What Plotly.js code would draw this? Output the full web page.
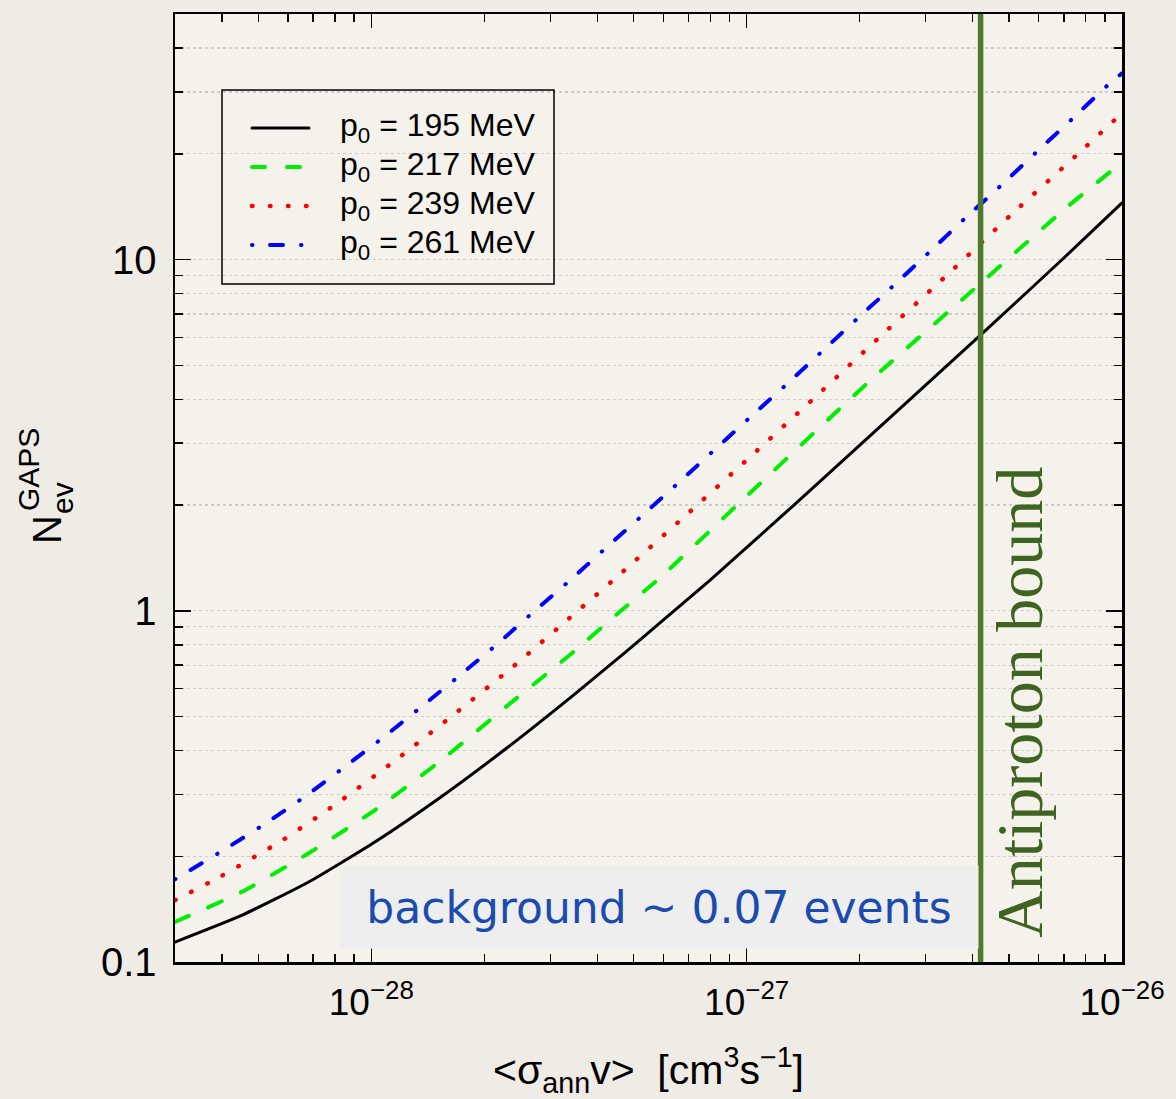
<!DOCTYPE html>
<html>
<head>
<meta charset="utf-8">
<script src="https://cdn.plot.ly/plotly-3.0.1.min.js"></script>
<style>
html,body{margin:0;padding:0;background:#efece6;}
#chart{width:1176px;height:1099px;}
#chart .scatterlayer .js-line{stroke-linecap:round;}
#chart .shapelayer path{stroke-linecap:round;}
</style>
</head>
<body>
<div id="chart"></div>
<script>
// ---- data ----
const seriesNames = ["p<sub>0</sub> = 195 MeV", "p<sub>0</sub> = 217 MeV", "p<sub>0</sub> = 239 MeV", "p<sub>0</sub> = 261 MeV"];

const x195 = [3.0e-29, 4.53e-29, 6.81e-29, 1.025e-28, 1.54e-28, 2.32e-28, 3.49e-28, 4.74e-28, 6.2e-28, 7.98e-28, 1.33e-27, 2.72e-27, 4.21e-27, 6.93e-27, 1.0e-26];
const y195 = [0.114, 0.136, 0.169, 0.220, 0.296, 0.410, 0.580, 0.760, 0.97, 1.22, 1.99, 3.99, 6.11, 10.0, 14.5];

const x217 = [3.0e-29, 4.53e-29, 6.81e-29, 1.025e-28, 1.54e-28, 2.32e-28, 3.49e-28, 4.55e-28, 5.87e-28, 9.58e-28, 2.08e-27, 4.12e-27, 7.08e-27, 1.0e-26];
const y217 = [0.130, 0.1585, 0.204, 0.271, 0.376, 0.540, 0.770, 0.985, 1.24, 2.03, 4.41, 8.40, 14.0, 18.9];

const x239 = [3.0e-29, 3.96e-29, 5.79e-29, 8.30e-29, 1.178e-28, 1.665e-28, 2.344e-28, 3.27e-28, 4.55e-28, 6.84e-28, 1.025e-27, 1.532e-27, 2.29e-27, 3.43e-27, 5.10e-27, 7.64e-27, 1.0e-26];
const y239 = [0.150, 0.175, 0.222, 0.288, 0.380, 0.508, 0.682, 0.926, 1.258, 1.857, 2.75, 4.08, 6.09, 9.06, 13.5, 20.0, 26.1];

const x261 = [3.0e-29, 4.09e-29, 5.26e-29, 6.75e-29, 8.57e-29, 1.084e-28, 1.369e-28, 1.725e-28, 2.17e-28, 2.71e-28, 3.40e-28, 4.23e-28, 5.30e-28, 6.60e-28, 8.26e-28, 1.029e-27, 1.283e-27, 1.595e-27, 1.99e-27, 2.48e-27, 3.08e-27, 3.82e-27, 4.77e-27, 5.93e-27, 7.38e-27, 9.15e-27, 1.0e-26];
const y261 = [0.172, 0.210, 0.249, 0.299, 0.362, 0.4385, 0.536, 0.656, 0.805, 0.994, 1.226, 1.514, 1.877, 2.32, 2.888, 3.58, 4.43, 5.50, 6.85, 8.49, 10.54, 13.11, 16.28, 20.27, 25.17, 31.3, 33.9];

const antiprotonBoundX = [4.2e-27, 4.2e-27];
const antiprotonBoundY = [0.1, 50];

const xRange = [3e-29, 1e-26];
const yRange = [0.1, 50];

const xTickVals = [1e-28, 1e-27, 1e-26];
const xTickText = ["10<sup>−28</sup>", "10<sup>−27</sup>", "10<sup>−26</sup>"];
const xMinorVals = [4e-29, 5e-29, 6e-29, 7e-29, 8e-29, 9e-29,
  2e-28, 3e-28, 4e-28, 5e-28, 6e-28, 7e-28, 8e-28, 9e-28,
  2e-27, 3e-27, 4e-27, 5e-27, 6e-27, 7e-27, 8e-27, 9e-27];
const yTickVals = [0.1, 1, 10];
const yTickText = ["0.1", "1", "10"];
const yMinorVals = [0.2, 0.3, 0.4, 0.5, 0.6, 0.7, 0.8, 0.9, 2, 3, 4, 5, 6, 7, 8, 9, 20, 30, 40];

const bgText = "background ~ 0.07 events";
const boundText = "Antiproton bound";

// ---- styles ----
const FONT = "Liberation Sans, Arial, Helvetica, sans-serif";
const styles = [
  {color: "#000000", width: 3, dash: "solid"},
  {color: "#00ee00", width: 4, dash: "15px,21px"},
  {color: "#ff0000", width: 4.5, dash: "0.5px,17.5px"},
  {color: "#0000ff", width: 4, dash: "0.5px,17.5px,13px,18px"}
];
const xs = [x195, x217, x239, x261];
const ys = [y195, y217, y239, y261];

const traces = xs.map((x, i) => ({
  x: x, y: ys[i], type: "scatter", mode: "lines", name: seriesNames[i],
  line: {color: styles[i].color, width: styles[i].width, dash: styles[i].dash, shape: "spline", smoothing: 0.5},
  showlegend: false, hoverinfo: "skip"
}));
traces.push({
  x: antiprotonBoundX, y: antiprotonBoundY, type: "scatter", mode: "lines", name: boundText,
  line: {color: "#4f7a2a", width: 5.5}, showlegend: false, hoverinfo: "skip"
});

// plot area in pixels: left 175, right 1122, top 14, bottom 962
const L = 175, R = 1122, T = 14, B = 962;
const px = v => (v - L) / (R - L);
const py = v => (B - v) / (B - T);

const shapes = [];
const annotations = [];

// manual legend
shapes.push({type: "rect", xref: "paper", yref: "paper", x0: px(222), x1: px(554), y0: py(284), y1: py(90),
  line: {color: "#000", width: 1.5}, fillcolor: "rgba(0,0,0,0)", layer: "above"});
const rows = [128, 167, 206, 245];
const legendDash = ["solid", "13px,22px", "0.5px,17.5px", "0.5px,17.5px,13px,18px"];
rows.forEach((r, i) => {
  shapes.push({type: "line", xref: "paper", yref: "paper", x0: px(252), x1: px(309), y0: py(r), y1: py(r),
    line: {color: styles[i].color, width: styles[i].width, dash: legendDash[i]}, layer: "above"});
  annotations.push({xref: "paper", yref: "paper", x: px(338), y: py(r), xanchor: "left", yanchor: "middle",
    text: seriesNames[i], showarrow: false, font: {family: FONT, size: 32, color: "#000"}});
});

// background note
annotations.push({xref: "paper", yref: "paper", x: px(659), y: py(907), xanchor: "center", yanchor: "middle",
  text: bgText, showarrow: false, bgcolor: "#eeeeee", width: 638, height: 82, borderpad: 0,
  font: {family: "DejaVu Sans, sans-serif", size: 44, color: "#1a4cb0"}});

// antiproton bound label
annotations.push({xref: "paper", yref: "paper", x: px(1019), y: py(703), xanchor: "center", yanchor: "middle",
  text: boundText, textangle: -90, showarrow: false,
  font: {family: "Liberation Serif, Times New Roman, serif", size: 66, color: "#3f6320"}});

// y-axis title with stacked sub/superscript
annotations.push({xref: "paper", yref: "paper", x: px(47), y: py(530), xanchor: "center", yanchor: "middle",
  text: "N", textangle: -90, showarrow: false, font: {family: FONT, size: 40, color: "#000"}});
annotations.push({xref: "paper", yref: "paper", x: px(28), y: py(470), xanchor: "center", yanchor: "middle",
  text: "GAPS", textangle: -90, showarrow: false, font: {family: FONT, size: 30, color: "#000"}});
annotations.push({xref: "paper", yref: "paper", x: px(62), y: py(498), xanchor: "center", yanchor: "middle",
  text: "ev", textangle: -90, showarrow: false, font: {family: FONT, size: 30, color: "#000"}});

const layout = {
  width: 1176, height: 1099,
  margin: {l: L, r: 1176 - R, t: T, b: 1099 - B, pad: 0},
  paper_bgcolor: "#efece6",
  plot_bgcolor: "#f5f2ec",
  showlegend: false,
  font: {family: FONT, color: "#000"},
  xaxis: {
    type: "log", range: [Math.log10(xRange[0]), Math.log10(xRange[1])],
    showline: true, linecolor: "#000", linewidth: 2.5, mirror: "ticks",
    ticks: "inside", ticklen: 14, tickwidth: 1.5, tickcolor: "#000",
    tickmode: "array", tickvals: xTickVals, ticktext: xTickText,
    tickfont: {family: FONT, size: 37, color: "#000"}, ticklabelstandoff: 6,
    showgrid: false, zeroline: false,
    minor: {tickmode: "array", tickvals: xMinorVals, ticks: "inside", ticklen: 8, tickwidth: 1.5, tickcolor: "#000", showgrid: false},
    title: {text: "&lt;σ<sub>ann</sub>v&gt;  [cm<sup>3</sup>s<sup>−1</sup>]", font: {family: FONT, size: 41, color: "#000"}, standoff: 38}
  },
  yaxis: {
    type: "log", range: [Math.log10(yRange[0]), Math.log10(yRange[1])],
    showline: true, linecolor: "#000", linewidth: 2.5, mirror: "ticks",
    ticks: "inside", ticklen: 16, tickwidth: 1.5, tickcolor: "#000",
    tickmode: "array", tickvals: yTickVals, ticktext: yTickText,
    tickfont: {family: FONT, size: 40, color: "#000"}, ticklabelstandoff: 8,
    showgrid: true, gridcolor: "#cbcbcb", griddash: "dot", gridwidth: 1.2, zeroline: false,
    minor: {tickmode: "array", tickvals: yMinorVals, ticks: "inside", ticklen: 8, tickwidth: 1.5, tickcolor: "#000",
      showgrid: true, gridcolor: "#cbcbcb", griddash: "dot", gridwidth: 1.2}
  },
  shapes: shapes,
  annotations: annotations
};

Plotly.newPlot("chart", traces, layout, {displayModeBar: false, staticPlot: true});
</script>
</body>
</html>
